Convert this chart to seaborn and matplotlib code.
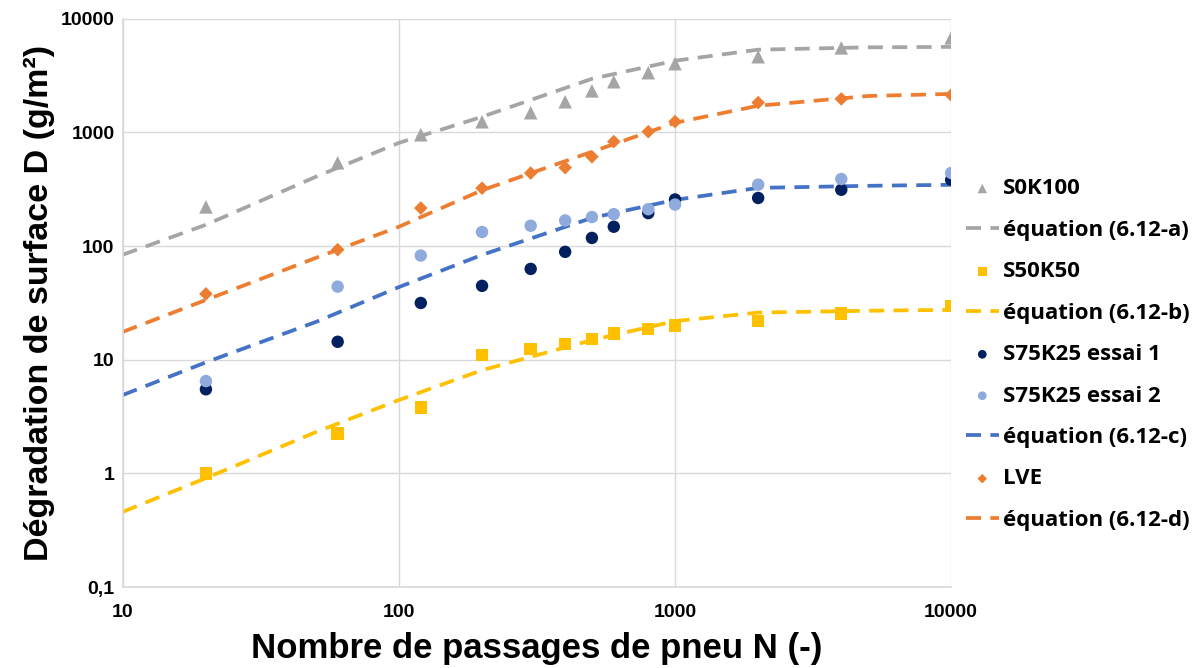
import numpy as np
import pandas as pd
import matplotlib.pyplot as plt
import matplotlib.ticker as mticker
import seaborn as sns

# measured points
n_pass = [20, 60, 120, 200, 300, 400, 500, 600, 800, 1000, 2000, 4000, 10000]
s0k100 = [221, 540, 953, 1240, 1490, 1860, 2320, 2790, 3350, 4020, 4630, 5540, 6790]
s50k50 = [1.0, 2.25, 3.8, 11, 12.4, 13.8, 15.2, 17.1, 18.6, 20, 21.9, 25.6, 29.6]
s75k25_1 = [5.5, 14.4, 31.6, 44.7, 63, 89, 118, 148, 195, 257, 265, 313, 383]
s75k25_2 = [6.5, 44, 82.6, 133, 151, 168, 180, 191, 211, 232, 347, 389, 440]
lve = [38, 93, 216, 323, 439, 490, 611, 830, 1015, 1245, 1830, 1970, 2130]

# fitted curves
n_curve = [10, 20, 50, 100, 200, 500, 1000, 2000, 5000, 10000]
eq_a = [84, 154, 407, 809, 1372, 2960, 4270, 5340, 5600, 5650]
eq_b = [0.46, 0.91, 2.31, 4.43, 8.1, 14.9, 21.9, 26, 27, 27.5]
eq_c = [4.9, 9.5, 21.5, 43.6, 83.7, 177, 255, 325, 339, 346]
eq_d = [17.6, 33.6, 78.7, 148, 310, 675, 1215, 1715, 2090, 2180]

GRAY = "#A5A5A5"
YELLOW = "#FFC000"
NAVY = "#002060"
LIGHTBLUE = "#8FAADC"
BLUE = "#4472C4"
ORANGE = "#ED7D31"

sns.set_style("white")
plt.rcParams["font.family"] = ["Liberation Sans", "DejaVu Sans"]
plt.rcParams["text.color"] = "black"
plt.rcParams["xtick.color"] = "black"
plt.rcParams["ytick.color"] = "black"
plt.rcParams["axes.labelcolor"] = "black"

fig = plt.figure(figsize=(12.04, 6.68), dpi=100)
ax = fig.add_axes([0.102, 0.121, 0.688, 0.851])

curves = [
    ("équation (6.12-a)", eq_a, GRAY),
    ("équation (6.12-b)", eq_b, YELLOW),
    ("équation (6.12-c)", eq_c, BLUE),
    ("équation (6.12-d)", eq_d, ORANGE),
]
points = [
    ("S0K100", s0k100, GRAY, "^", 95),
    ("S50K50", s50k50, YELLOW, "s", 80),
    ("S75K25 essai 1", s75k25_1, NAVY, "o", 80),
    ("S75K25 essai 2", s75k25_2, LIGHTBLUE, "o", 80),
    ("LVE", lve, ORANGE, "D", 48),
]

for label, vals, col in curves:
    df = pd.DataFrame({"N": n_curve, "D": vals})
    sns.lineplot(data=df, x="N", y="D", ax=ax, color=col, linewidth=2.7,
                 linestyle=(0, (4, 2.5)), label=label, zorder=2)
for label, vals, col, mk, sz in points:
    df = pd.DataFrame({"N": n_pass, "D": vals})
    sns.scatterplot(data=df, x="N", y="D", ax=ax, color=col, marker=mk, s=sz,
                    edgecolor="none", label=label, zorder=3)

ax.set_xscale("log")
ax.set_yscale("log")
ax.set_xlim(10, 10000)
ax.set_ylim(0.1, 10000)

ax.xaxis.set_major_locator(mticker.FixedLocator([10, 100, 1000, 10000]))
ax.yaxis.set_major_locator(mticker.FixedLocator([0.1, 1, 10, 100, 1000, 10000]))
ax.xaxis.set_minor_locator(mticker.NullLocator())
ax.yaxis.set_minor_locator(mticker.NullLocator())
ax.set_xticklabels(["10", "100", "1000", "10000"], fontsize=14, fontweight="bold")
ax.set_yticklabels(["0,1", "1", "10", "100", "1000", "10000"], fontsize=14, fontweight="bold")
ax.tick_params(axis="x", length=0, pad=12)
ax.tick_params(axis="y", length=0, pad=6)

ax.grid(True, color="#D9D9D9", linewidth=1)
for side in ["top", "right"]:
    ax.spines[side].set_visible(False)
for side in ["left", "bottom"]:
    ax.spines[side].set_color("#D9D9D9")
    ax.spines[side].set_linewidth(1.2)

ax.set_xlabel("Nombre de passages de pneu N (-)", fontsize=25, fontweight="bold", labelpad=8)
ax.set_ylabel("Dégradation de surface D (g/m²)", fontsize=24.5, fontweight="bold", labelpad=4)

h, l = ax.get_legend_handles_labels()
lookup = dict(zip(l, h))
order = ["S0K100", "équation (6.12-a)", "S50K50", "équation (6.12-b)",
         "S75K25 essai 1", "S75K25 essai 2", "équation (6.12-c)",
         "LVE", "équation (6.12-d)"]
ax.legend([lookup[k] for k in order], order, loc="upper left",
          bbox_to_anchor=(0.802, 0.733), bbox_transform=fig.transFigure,
          frameon=False, prop={"family": "Open Sans", "weight": "bold", "size": 16},
          labelspacing=0.92, handlelength=1.5, handletextpad=0.2, markerscale=0.7,
          borderaxespad=0, borderpad=0)

fig.savefig("out.png", dpi=100)
